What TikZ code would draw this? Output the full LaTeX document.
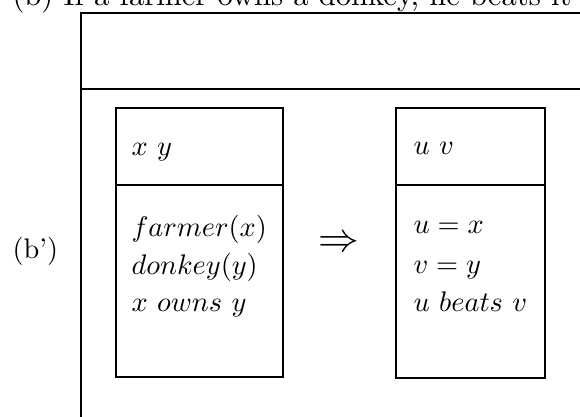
\documentclass[tikz,border=0pt]{standalone}
\usepackage{fontspec}
\usetikzlibrary{positioning}
\tikzset{
  drsline/.style={line width=0.7pt},
  drstext/.style={anchor=base west,inner sep=0pt},
}
\begin{document}
\begin{tikzpicture}[x=0.353pt,y=-0.353pt]
\useasboundingbox (0,0) rectangle (580,416);

% heading, cut by the page edge
\node[drstext,font=\fontsize{10.8}{13}\selectfont] (head) at (12,5)
     {(b) If a farmer owns a donkey, he beats it};

% ============ outer box ============
\draw[drsline] (81,440) -- (81,13) -- (620,13);
\draw[drsline] (81,89) -- (620,89);
\node[drstext] (lbl) at (12,258) {(b')};

% ============ antecedent box ============
\draw[drsline] (116,108) rectangle (283,377);
\draw[drsline] (116,185) -- (283,185);
\node[drstext] (xy)     at (131,155) {$x\ y$};
\node[drstext] (farmer) at (131,236) {$farmer(x)$};
\node[drstext] (donkey) at (131,274) {$donkey(y)$};
\node[drstext] (owns)   at (131,311) {$x\ owns\ y$};

% ============ implication ============
\node[drstext] (impl) at (318,251) {\Large$\Rightarrow$};

% ============ consequent box ============
\draw[drsline] (396,108) rectangle (545,378);
\draw[drsline] (396,185) -- (545,185);
\node[drstext] (uv)    at (413,154) {$u\ v$};
\node[drstext] (ux)    at (413,233) {$u = x$};
\node[drstext] (vy)    at (413,273) {$v = y$};
\node[drstext] (beats) at (413,311) {$u\ beats\ v$};

\end{tikzpicture}
\end{document}
